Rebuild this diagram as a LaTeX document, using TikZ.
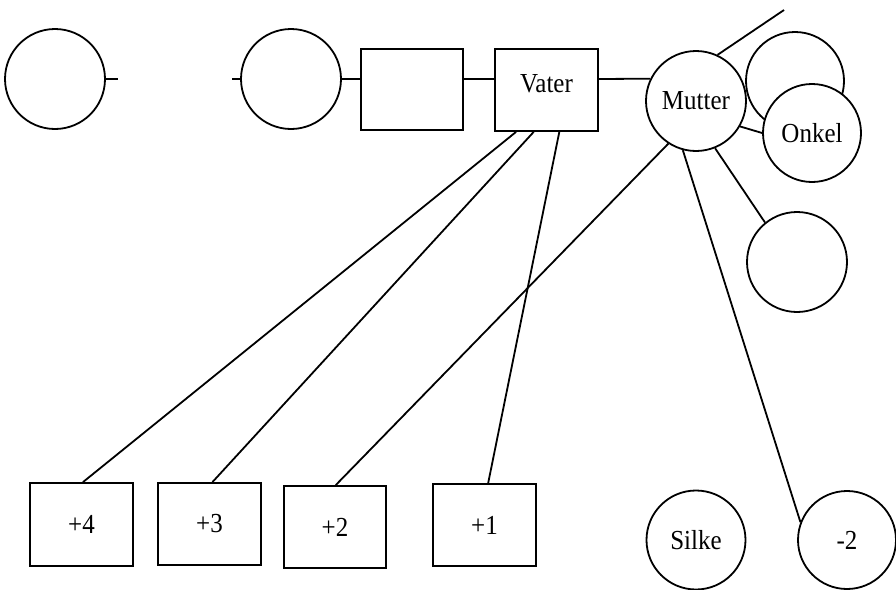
\documentclass[tikz,border=0pt]{standalone}
\usepackage{graphicx}
\usepackage{fontspec}
\setmainfont{Liberation Serif}
\newcommand\lbl[1]{\scalebox{1}[1.1]{#1}}
\begin{document}
\begin{tikzpicture}[x=1pt,y=-1pt,
  every node/.style={font=\fontsize{25}{28}\selectfont},
  every label/.style={font=\fontsize{25}{28}\selectfont},
  circ/.style={circle,draw,line width=1.8pt,fill=white,inner sep=0pt,minimum size=#1},
  circ/.default=99pt,
  boxn/.style={rectangle,draw,line width=1.8pt,fill=white,inner sep=0pt,minimum width=103pt,minimum height=82pt},
  conn/.style={line width=1.8pt}]
\useasboundingbox (0,0) rectangle (896,589);
% top row
\node[circ=100pt] (c1) at (55,79) {};
\node[circ=100pt] (c2) at (291,79) {};
\node[boxn,minimum width=102pt,minimum height=81pt] (b1) at (412,89.5) {};
\node[boxn,label={[yshift=6pt]center:\lbl{Vater}}] (vater) at (546.5,90) {};
\node[circ=100pt] (mutter) at (696,101) {\lbl{Mutter}};
\node[circ=98pt] (back) at (795,81) {};
\node[circ=98pt] (onkel) at (812,133) {\lbl{Onkel}};
\node[circ=100pt] (right) at (797,262) {};
% bottom row
\node[boxn,minimum height=83pt] (p4) at (81.5,524.5) {\lbl{+4}};
\node[boxn] (p3) at (209.5,524) {\lbl{+3}};
\node[boxn,minimum width=102pt] (p2) at (335,527) {\lbl{+2}};
\node[boxn] (p1) at (484.5,525) {\lbl{+1}};
\node[circ=99pt] (silke) at (696,540) {\lbl{Silke}};
\node[circ=98pt] (m2) at (847,540) {\lbl{-2}};
% free ends
\coordinate (s1) at (118,79);
\coordinate (s2) at (232,79);
\coordinate (ur) at (784,10);
% connectors
\draw[conn] (c1.east) -- (s1);
\draw[conn] (s2) -- (c2.west);
\draw[conn] (c2.east) -- (c2.east -| b1.west);
\draw[conn] (c2.east -| b1.east) -- (c2.east -| vater.west);
\draw[conn] (c2.east -| vater.east) -- (mutter.154);
\draw[conn] (mutter.65) -- (ur);
\draw[conn] (mutter.-30) -- (onkel.west);
\draw[conn] (mutter.-68) -- (right.129);
\draw[conn] (mutter.255) -- (m2.159);
\draw[conn] (mutter.237) -- (p2.89);
\draw[conn] (vater.234) -- (p4.88);
\draw[conn] (vater.253) -- (p3.86.5);
\draw[conn] (vater.287) -- (p1.85);
\end{tikzpicture}
\end{document}
